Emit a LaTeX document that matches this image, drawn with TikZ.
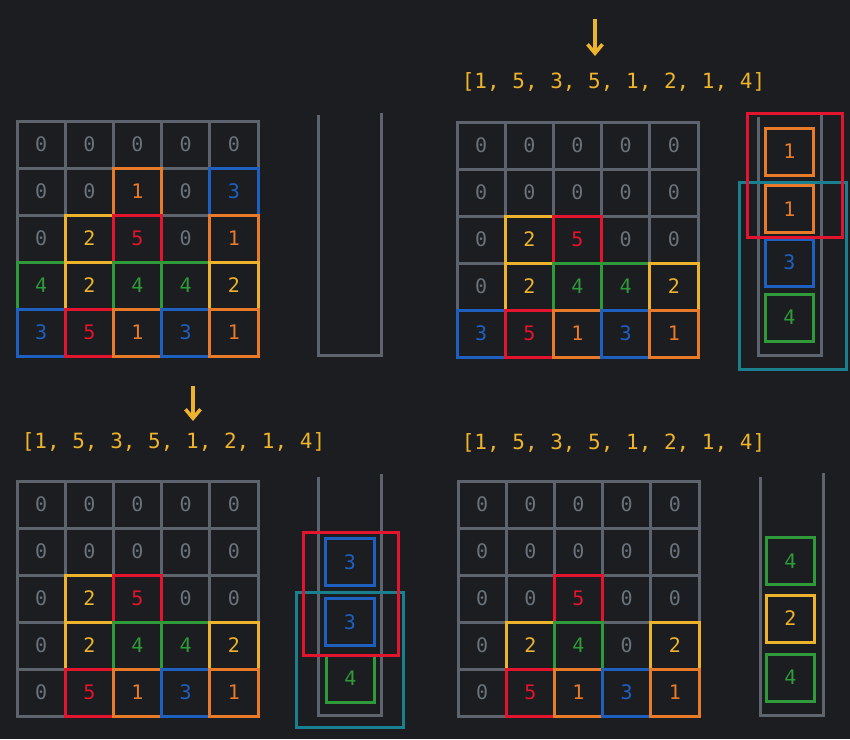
\documentclass[tikz,border=0pt]{standalone}
\usepackage{fontspec}
\setmonofont{DejaVu Sans Mono}
\usetikzlibrary{arrows.meta}
\definecolor{bg}{HTML}{1B1D21}
\definecolor{gridc}{HTML}{5D646E}
\definecolor{zeroc}{HTML}{6A727C}
\definecolor{orangec}{HTML}{E77B2A}
\definecolor{bluec}{HTML}{1E60C0}
\definecolor{redc}{HTML}{E3142D}
\definecolor{yellowc}{HTML}{EEB32C}
\definecolor{greenc}{HTML}{2F9A3A}
\definecolor{tealc}{HTML}{1A7F8F}
\tikzset{
  cellbase/.style={line width=3pt, minimum width=48.2pt, minimum height=47pt, inner sep=0pt,
    font=\ttfamily\fontsize{20}{20}\selectfont},
  st-z/.style={draw=none, text=zeroc},
  st-o/.style={draw=orangec, text=orangec},
  st-b/.style={draw=bluec, text=bluec},
  st-r/.style={draw=redc, text=redc},
  st-y/.style={draw=yellowc, text=yellowc},
  st-g/.style={draw=greenc, text=greenc},
  item/.style={cellbase, draw=#1, text=#1, minimum width=48.5pt},
  stackline/.style={draw=gridc, line width=3pt},
  listtext/.style={text=yellowc, font=\ttfamily\fontsize{21}{21}\selectfont, inner sep=0pt},
  pointer/.style={draw=yellowc, line width=3.5pt, -{Straight Barb[length=9pt,width=15pt]}},
  groupbox/.style={draw=#1, line width=3pt, inner sep=0pt},
}
\newcommand\gridpanel[4]{%
  \foreach \j in {0,...,4}{\foreach \i in {0,...,4}{
    \node[cellbase, draw=gridc] (#1-b\j\i) at ({#2+24.1+48.2*\i},{#3+23.5+47*\j}) {};}}
  \foreach \rowvals [count=\j from 0] in {#4}{
    \foreach \c/\t [count=\i from 0] in \rowvals{
      \node[cellbase, st-\c] (#1-c\j\i) at (#1-b\j\i.center) {\t};}}}
\begin{document}
\begin{tikzpicture}[x=1pt,y=-1pt]
\fill[bg] (0,0) rectangle (850,739);
\useasboundingbox (0,0) rectangle (850,739);

% ---------- panel A (top-left) ----------
\gridpanel{pa}{17}{121}{{z/0,z/0,z/0,z/0,z/0},{z/0,z/0,o/1,z/0,b/3},{z/0,y/2,r/5,z/0,o/1},{g/4,y/2,g/4,g/4,y/2},{b/3,r/5,o/1,b/3,o/1}}
\coordinate (pa-tl) at (318.5,115);
\coordinate (pa-bl) at (318.5,355);
\coordinate (pa-br) at (383,355);
\coordinate (pa-tr) at (381.5,113);
\coordinate (pa-rb) at (381.5,355);
\draw[stackline] (pa-tl) -- (pa-bl) -- (pa-br);
\draw[stackline] (pa-tr) -- (pa-rb);

% ---------- panel B (top-right) ----------
\coordinate (pb-from) at (595,19);
\coordinate (pb-to) at (595,56);
\draw[pointer] (pb-from) -- (pb-to);
\node[listtext] (pb-list) at (613.5,82) {[1, 5, 3, 5, 1, 2, 1, 4]};
\gridpanel{pb}{457}{122}{{z/0,z/0,z/0,z/0,z/0},{z/0,z/0,z/0,z/0,z/0},{z/0,y/2,r/5,z/0,z/0},{z/0,y/2,g/4,g/4,y/2},{b/3,r/5,o/1,b/3,o/1}}
\coordinate (pb-tl) at (758,117);
\coordinate (pb-bl) at (758,355);
\coordinate (pb-br) at (823,355);
\coordinate (pb-tr) at (821,115);
\coordinate (pb-rb) at (821,355);
\draw[stackline] (pb-tl) -- (pb-bl) -- (pb-br);
\draw[stackline] (pb-tr) -- (pb-rb);
\node[item=orangec] (pb-s1) at (789.5,151.5) {1};
\node[item=orangec] (pb-s2) at (789.5,209) {1};
\node[item=bluec] (pb-s3) at (789.5,262.5) {3};
\node[item=greenc] (pb-s4) at (789.5,317.5) {4};
\node[groupbox=tealc, minimum width=107pt, minimum height=187pt] (pb-teal) at (792.5,275.5) {};
\node[groupbox=redc, minimum width=95pt, minimum height=124pt] (pb-red) at (794.5,175) {};

% ---------- panel C (bottom-left) ----------
\coordinate (pc-from) at (193,386);
\coordinate (pc-to) at (193,421);
\draw[pointer] (pc-from) -- (pc-to);
\node[listtext] (pc-list) at (173.5,442) {[1, 5, 3, 5, 1, 2, 1, 4]};
\gridpanel{pc}{17}{481}{{z/0,z/0,z/0,z/0,z/0},{z/0,z/0,z/0,z/0,z/0},{z/0,y/2,r/5,z/0,z/0},{z/0,y/2,g/4,g/4,y/2},{z/0,r/5,o/1,b/3,o/1}}
\coordinate (pc-tl) at (318.5,477);
\coordinate (pc-bl) at (318.5,715);
\coordinate (pc-br) at (383,715);
\coordinate (pc-tr) at (381.5,474);
\coordinate (pc-rb) at (381.5,715);
\draw[stackline] (pc-tl) -- (pc-bl) -- (pc-br);
\draw[stackline] (pc-tr) -- (pc-rb);
\node[item=bluec] (pc-s1) at (350,562) {3};
\node[item=bluec] (pc-s2) at (350,622) {3};
\node[item=greenc] (pc-s3) at (350.5,678.5) {4};
\node[groupbox=tealc, minimum width=107pt, minimum height=135pt] (pc-teal) at (349.5,659.5) {};
\node[groupbox=redc, minimum width=95pt, minimum height=123pt] (pc-red) at (350.5,593.5) {};

% ---------- panel D (bottom-right) ----------
\node[listtext] (pd-list) at (613.5,443) {[1, 5, 3, 5, 1, 2, 1, 4]};
\gridpanel{pd}{458}{481}{{z/0,z/0,z/0,z/0,z/0},{z/0,z/0,z/0,z/0,z/0},{z/0,z/0,r/5,z/0,z/0},{z/0,y/2,g/4,z/0,y/2},{z/0,r/5,o/1,b/3,o/1}}
\coordinate (pd-tl) at (760,477);
\coordinate (pd-bl) at (760,715);
\coordinate (pd-br) at (825,715);
\coordinate (pd-tr) at (823,473);
\coordinate (pd-rb) at (823,715);
\draw[stackline] (pd-tl) -- (pd-bl) -- (pd-br);
\draw[stackline] (pd-tr) -- (pd-rb);
\node[item=greenc] (pd-s1) at (790.5,561) {4};
\node[item=yellowc] (pd-s2) at (790.5,618.5) {2};
\node[item=greenc] (pd-s3) at (790.5,677.5) {4};
\end{tikzpicture}
\end{document}
